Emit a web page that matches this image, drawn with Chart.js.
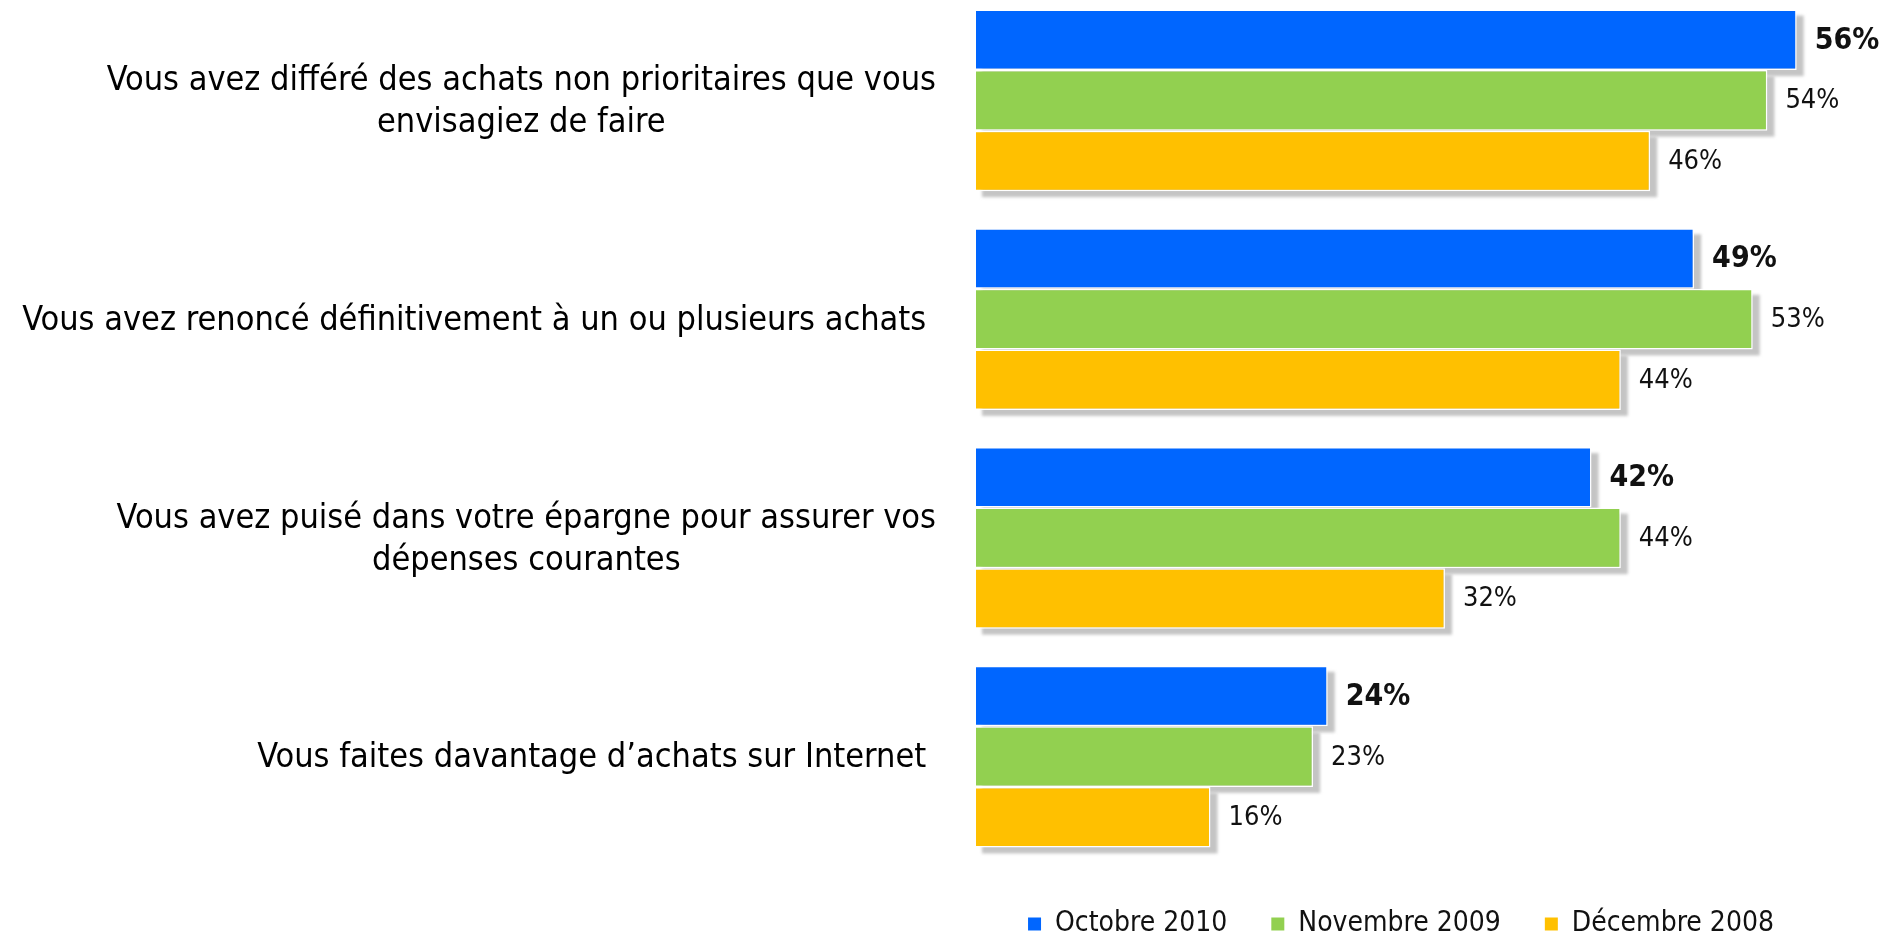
<!DOCTYPE html>
<html lang="fr">
<head>
<meta charset="utf-8">
<title>Achats</title>
<script src="https://cdn.jsdelivr.net/npm/chart.js@4.4.1/dist/chart.umd.min.js"></script>
<style>
    html, body { margin: 0; padding: 0; background: #fff; overflow: hidden; }
    body { width: 1882px; height: 935px; position: relative; }
    #wrap { position: absolute; left: 0; top: -9px; width: 1882px; height: 957px; }
</style>
</head>
<body>
<div id="wrap"><canvas id="achatsChart"></canvas></div>
<script>
// categories (one entry per line of the label)
const categories = [
    ['Vous avez différé des achats non prioritaires que vous', 'envisagiez de faire'],
    ['Vous avez renoncé définitivement à un ou plusieurs achats '],
    ['Vous avez puisé dans votre épargne pour assurer vos', 'dépenses courantes'],
    ['Vous faites davantage d\u2019achats sur Internet ']
];

const seriesNames = ['Octobre 2010', 'Novembre 2009', 'Décembre 2008'];
const oct2010 = [56, 49, 42, 24];
const nov2009 = [54, 53, 44, 23];
const dec2008 = [46, 44, 32, 16];

const seriesColors = ['#0066FF', '#92D050', '#FFC000'];
const FONT = '"DejaVu Sans Condensed", "DejaVu Sans", sans-serif';

// grey drop shadow behind every bar, drawn before all datasets
const shadowPlugin = {
    id: 'barShadow',
    beforeDatasetsDraw(chart) {
        const ctx = chart.ctx;
        ctx.save();
        ctx.fillStyle = '#c4c4c4';
        ctx.filter = 'blur(1.5px)';
        chart.data.datasets.forEach((ds, i) => {
            chart.getDatasetMeta(i).data.forEach(bar => {
                const h = bar.height;
                ctx.fillRect(bar.base + 6, bar.y - h / 2 + 6, bar.x - bar.base + 1, h);
            });
        });
        ctx.restore();
    }
};

// value labels at the end of each bar
const valueLabels = {
    id: 'valueLabels',
    afterDatasetsDraw(chart) {
        const ctx = chart.ctx;
        ctx.save();
        ctx.textBaseline = 'middle';
        ctx.textAlign = 'left';
        ctx.fillStyle = '#111';
        chart.data.datasets.forEach((ds, i) => {
            ctx.font = i === 0 ? 'bold 30px ' + FONT : '27px ' + FONT;
            chart.getDatasetMeta(i).data.forEach((bar, j) => {
                ctx.fillText(ds.data[j] + '%', bar.x + 18, bar.y + 1);
            });
        });
        ctx.restore();
    }
};

// category labels: block right aligned, lines centred inside the block
const categoryLabels = {
    id: 'categoryLabels',
    afterDraw(chart) {
        const ctx = chart.ctx;
        const yScale = chart.scales.y;
        const right = chart.chartArea.left - 40;
        const lineH = 42;
        ctx.save();
        ctx.font = '34px ' + FONT;
        ctx.fillStyle = '#000';
        ctx.textAlign = 'center';
        ctx.textBaseline = 'middle';
        categories.forEach((lines, i) => {
            const widest = Math.max(...lines.map(l => ctx.measureText(l).width));
            const cx = right - widest / 2;
            const cy = yScale.getPixelForValue(i) + 2;
            lines.forEach((l, k) => {
                ctx.fillText(l, cx, cy + (k - (lines.length - 1) / 2) * lineH);
            });
        });
        ctx.restore();
    }
};

const chart = new Chart(document.getElementById('achatsChart'), {
    type: 'bar',
    data: {
        labels: categories,
        datasets: [
            { label: seriesNames[0], data: oct2010, backgroundColor: seriesColors[0] },
            { label: seriesNames[1], data: nov2009, backgroundColor: seriesColors[1] },
            { label: seriesNames[2], data: dec2008, backgroundColor: seriesColors[2] }
        ].map(ds => Object.assign(ds, {
            borderColor: '#ffffff',
            borderWidth: 1.5,
            categoryPercentage: 0.83,
            barPercentage: 1.0
        }))
    },
    options: {
        indexAxis: 'y',
        responsive: true,
        maintainAspectRatio: false,
        animation: false,
        layout: {
            padding: { left: 976, right: 56, top: 0, bottom: 0 }
        },
        scales: {
            x: { display: false, min: 0, max: 58 },
            y: { display: false }
        },
        plugins: {
            tooltip: { enabled: false },
            legend: {
                position: 'bottom',
                align: 'center',
                labels: {
                    font: { family: FONT, size: 28 },
                    color: '#111',
                    boxWidth: 13,
                    boxHeight: 13,
                    padding: 44,
                    generateLabels(c) {
                        return Chart.defaults.plugins.legend.labels.generateLabels(c)
                            .map(item => Object.assign(item, { lineWidth: 0 }));
                    }
                }
            }
        }
    },
    plugins: [shadowPlugin, valueLabels, categoryLabels]
});
</script>
</body>
</html>
